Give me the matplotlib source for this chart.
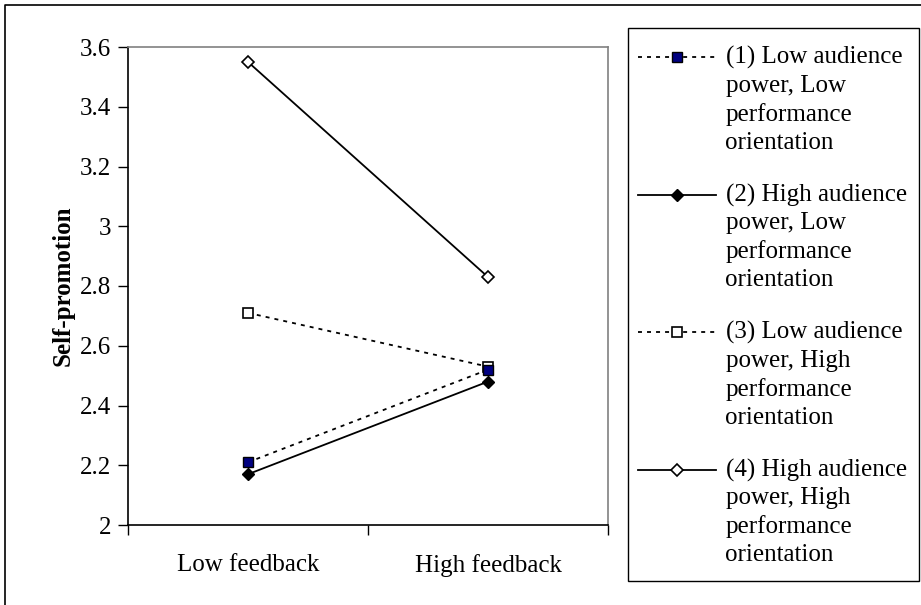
import numpy as np
import matplotlib
matplotlib.use("Agg")
import matplotlib.pyplot as plt
from matplotlib.legend_handler import HandlerLine2D
from matplotlib.lines import Line2D
from matplotlib.patches import Rectangle

plt.rcParams['font.family'] = ['Liberation Serif', 'DejaVu Serif']

# self-promotion means per feedback condition
conditions = ["Low feedback", "High feedback"]
low_power_low_perf = [2.21, 2.52]
high_power_low_perf = [2.17, 2.48]
low_power_high_perf = [2.71, 2.53]
high_power_high_perf = [3.55, 2.83]

labels = [
    "(1) Low audience\npower, Low\nperformance\norientation",
    "(2) High audience\npower, Low\nperformance\norientation",
    "(3) Low audience\npower, High\nperformance\norientation",
    "(4) High audience\npower, High\nperformance\norientation",
]
yticks = [2, 2.2, 2.4, 2.6, 2.8, 3, 3.2, 3.4, 3.6]

FS = 18
LINE_PITCH = 28.3 * 72 / 100  # points between label lines


class FirstLineHandler(HandlerLine2D):
    """Puts the legend sample beside the first line of a multi-line label."""
    def create_artists(self, legend, orig_handle, xdescent, ydescent,
                       width, height, fontsize, trans):
        arts = super().create_artists(legend, orig_handle, xdescent, ydescent,
                                      width, height, fontsize, trans)
        for a in arts:
            a.set_ydata(np.asarray(a.get_ydata(), float) + 1.5 * LINE_PITCH)
        return arts


fig = plt.figure(figsize=(9.21, 6.05), dpi=100)
ax = fig.add_axes([128 / 921, 80 / 605, 480 / 921, 478 / 605])

x = np.array([0.5, 1.5])
dash = (0, (2.2, 2.8))
l1, = ax.plot(x, low_power_low_perf, linestyle=dash, color="black", lw=1.3,
              marker="s", ms=6.5, mfc="#000080", mec="black", mew=1)
l2, = ax.plot(x, high_power_low_perf, linestyle="-", color="black", lw=1.3,
              marker="D", ms=6, mfc="black", mec="black")
l3, = ax.plot(x, low_power_high_perf, linestyle=dash, color="black", lw=1.3,
              marker="s", ms=6.5, mfc="white", mec="black", mew=1.2)
l4, = ax.plot(x, high_power_high_perf, linestyle="-", color="black", lw=1.3,
              marker="D", ms=6, mfc="white", mec="black", mew=1.2)
# the filled diamond and blue square sit on top
l2.set_zorder(4)
l1.set_zorder(5)

ax.set_xlim(0, 2)
ax.set_ylim(2, 3.6)
ax.set_yticks(yticks)
ax.set_yticklabels([f"{v:g}" for v in yticks])
ax.set_xticks([0, 1, 2])
ax.set_xticklabels([])
ax.set_xticks(x, minor=True)
ax.set_xticklabels(conditions, minor=True)
ax.tick_params(axis="x", which="major", direction="out", length=7, width=1)
ax.tick_params(axis="x", which="minor", length=0, pad=21, labelsize=FS)
ax.tick_params(axis="y", direction="out", length=7, width=1, labelsize=FS, pad=5)

for side in ("top", "right"):
    ax.spines[side].set_color("#808080")
    ax.spines[side].set_linewidth(1.2)
for side in ("left", "bottom"):
    ax.spines[side].set_color("black")
    ax.spines[side].set_linewidth(1.2)

ax.set_ylabel("Self-promotion", fontsize=FS, fontweight="bold", labelpad=4)

leg = fig.legend([l1, l2, l3, l4], labels, loc="upper left",
                 bbox_to_anchor=(628 / 921, 1 - 36 / 605),
                 bbox_transform=fig.transFigure,
                 fontsize=FS, frameon=False,
                 handlelength=3.1, handletextpad=0.4, borderpad=0.4,
                 labelspacing=1.19, borderaxespad=0,
                 handler_map={Line2D: FirstLineHandler()})
for t in leg.get_texts():
    t.set_linespacing(1.34)

# legend box
fig.add_artist(Rectangle((628 / 921, 1 - 581 / 605), 291 / 921, 553 / 605,
                         transform=fig.transFigure, fill=False,
                         edgecolor="black", lw=1.0))

# outer chart border (left and top edges)
fig.add_artist(Line2D([4.5 / 921, 4.5 / 921, 1], [0, 1 - 4.5 / 605, 1 - 4.5 / 605],
                      transform=fig.transFigure, color="black", lw=1.2))

fig.savefig("out.png", dpi=100)
